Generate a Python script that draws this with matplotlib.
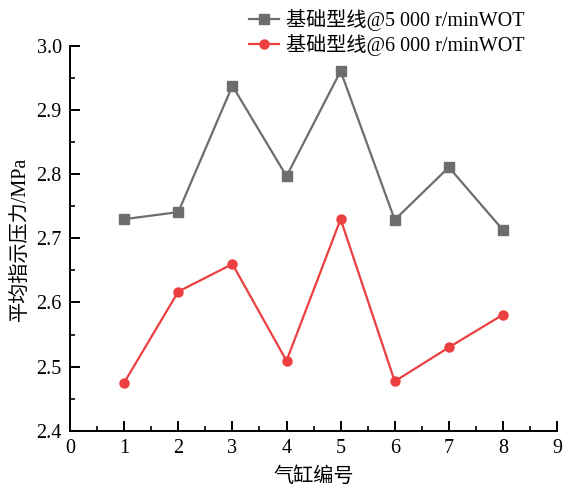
import matplotlib
matplotlib.use('Agg')
import matplotlib.pyplot as plt
from matplotlib.ticker import MultipleLocator

plt.rcParams['font.family'] = ['Liberation Serif', 'Noto Sans CJK SC']
plt.rcParams['axes.unicode_minus'] = False

cylinders = [1, 2, 3, 4, 5, 6, 7, 8]
p_5000 = [2.730, 2.741, 2.938, 2.797, 2.961, 2.729, 2.811, 2.713]
p_6000 = [2.475, 2.617, 2.660, 2.509, 2.730, 2.477, 2.530, 2.581]
labels = ['基础型线@5 000 r/minWOT', '基础型线@6 000 r/minWOT']

fig = plt.figure(figsize=(5.65, 4.9), dpi=100)
ax = fig.add_axes([0.124, 0.121, 0.862, 0.785])

ax.plot(cylinders, p_5000, color='#6d6d6d', lw=1.6, marker='s', ms=6.5, label=labels[0])
ax.plot(cylinders, p_6000, color='#ec3f3f', lw=1.6, marker='o', ms=6.5, label=labels[1])

ax.set_xlim(0, 9)
ax.set_ylim(2.4, 3.0)
ax.xaxis.set_major_locator(MultipleLocator(1))
ax.xaxis.set_minor_locator(MultipleLocator(0.5))
ax.yaxis.set_major_locator(MultipleLocator(0.1))
ax.yaxis.set_minor_locator(MultipleLocator(0.05))
ax.yaxis.set_major_formatter(matplotlib.ticker.FormatStrFormatter('%.1f'))

for s in ['top', 'right']:
    ax.spines[s].set_visible(False)
for s in ['left', 'bottom']:
    ax.spines[s].set_linewidth(1.4)
ax.tick_params(which='major', direction='in', length=7, width=1.4, labelsize=14.5, pad=6)
ax.tick_params(which='minor', direction='in', length=3.5, width=1.2)

ax.set_xlabel('气缸编号', fontsize=14.5, fontweight='medium', labelpad=7)
ax.set_ylabel('平均指示压力/MPa', fontsize=14.5, fontweight='medium', labelpad=5)

ax.legend(loc='upper left', bbox_to_anchor=(0.35, 1.118), frameon=False, fontsize=14.5,
          handlelength=1.5, handletextpad=0.35, labelspacing=0.2, borderaxespad=0)

fig.savefig('out.png', dpi=100)
